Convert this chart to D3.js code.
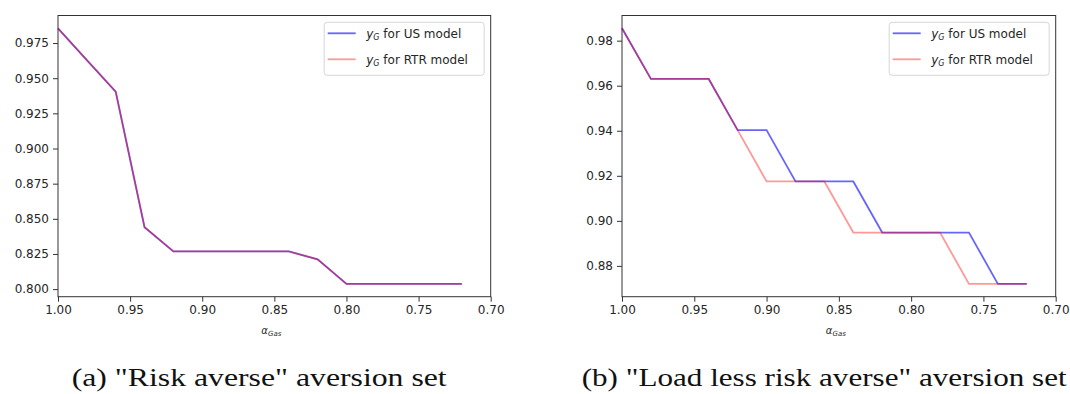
<!DOCTYPE html>
<html>
<head>
<meta charset="utf-8">
<script src="https://cdn.jsdelivr.net/npm/d3@7"></script>
<style>
	body { margin: 0; background: #fff; }
	svg { display: block; }
	.tick text { font-family: "DejaVu Sans", sans-serif; font-size: 12px; fill: #262626; }
	.tick line { stroke: #333; }
	.frame { fill: none; stroke: #333; stroke-width: 1; }
</style>
</head>
<body>
<svg id="chart" width="1070" height="394"></svg>
<script>

// alpha_Gas sample points (x axis runs from 1.00 down to 0.70)
var alphaGas = [1.00, 0.98, 0.96, 0.94, 0.92, 0.90, 0.88, 0.86, 0.84, 0.82, 0.80, 0.78, 0.76, 0.74, 0.72];

// (a) risk averse: both models give the same curve
var usRiskAverse  = [0.9855, 0.9628, 0.9405, 0.8440, 0.8268, 0.8268, 0.8268, 0.8268, 0.8268, 0.8212, 0.8037, 0.8037, 0.8037, 0.8037, 0.8037];
var rtrRiskAverse = [0.9855, 0.9628, 0.9405, 0.8440, 0.8268, 0.8268, 0.8268, 0.8268, 0.8268, 0.8212, 0.8037, 0.8037, 0.8037, 0.8037, 0.8037];

// (b) load less risk averse
var usLoadLess  = [0.9855, 0.9630, 0.9630, 0.9630, 0.9403, 0.9403, 0.9175, 0.9175, 0.9175, 0.8948, 0.8948, 0.8948, 0.8948, 0.8720, 0.8720];
var rtrLoadLess = [0.9855, 0.9630, 0.9630, 0.9630, 0.9403, 0.9175, 0.9175, 0.9175, 0.8948, 0.8948, 0.8948, 0.8948, 0.8720, 0.8720, 0.8720];

var xTicks  = [1.00, 0.95, 0.90, 0.85, 0.80, 0.75, 0.70];
var yTicksA = [0.800, 0.825, 0.850, 0.875, 0.900, 0.925, 0.950, 0.975];
var yTicksB = [0.88, 0.90, 0.92, 0.94, 0.96, 0.98];

var seriesNames = ["US", "RTR"];
var captions = ["(a) \"Risk averse\" aversion set", "(b) \"Load less risk averse\" aversion set"];

var svg = d3.select("#chart");

var panels = [
	{ left: 58, right: 490.7, us: usRiskAverse, rtr: rtrRiskAverse, yTicks: yTicksA, fmt: ".3f", caption: captions[0], capX: 71.7, capW: 375 },
	{ left: 622, right: 1055.7, us: usLoadLess, rtr: rtrLoadLess, yTicks: yTicksB, fmt: ".2f", caption: captions[1], capX: 581.7, capW: 485 }
];

var plotTop = 15.5, plotBottom = 296.7;

panels.forEach(function(p){

	var g = svg.append("g");

	var x = d3.scaleLinear()
	.domain([1.00, 0.70])
	.range([p.left, p.right]);

	// matplotlib style autoscale with 5% margin
	var all = p.us.concat(p.rtr);
	var lo = d3.min(all), hi = d3.max(all), pad = (hi - lo) * 0.05;
	var y = d3.scaleLinear()
	.domain([lo - pad, hi + pad])
	.range([plotBottom, plotTop]);

	g.append("g")
	.attr("transform", "translate(0," + plotBottom + ")")
	.call(d3.axisBottom(x).tickValues(xTicks).tickFormat(d3.format(".2f")).tickSize(5).tickPadding(4))
	.call(function(a){ a.select(".domain").remove(); });

	g.append("g")
	.attr("transform", "translate(" + p.left + ",0)")
	.call(d3.axisLeft(y).tickValues(p.yTicks).tickFormat(d3.format(p.fmt)).tickSize(5).tickPadding(4))
	.call(function(a){ a.select(".domain").remove(); });

	g.append("rect")
	.attr("class", "frame")
	.attr("x", p.left)
	.attr("y", plotTop)
	.attr("width", p.right - p.left)
	.attr("height", plotBottom - plotTop);

	var line = d3.line()
	.x(function(d, i){ return x(alphaGas[i]); })
	.y(function(d){ return y(d); });

	g.append("path")
	.datum(p.us)
	.attr("d", line)
	.attr("fill", "none")
	.attr("stroke", "#0000ff")
	.attr("stroke-opacity", 0.6)
	.attr("stroke-width", 1.8);

	g.append("path")
	.datum(p.rtr)
	.attr("d", line)
	.attr("fill", "none")
	.attr("stroke", "#ff0000")
	.attr("stroke-opacity", 0.4)
	.attr("stroke-width", 1.8);

	// legend
	var lx = p.right - 166.5;
	var legend = g.append("g");
	legend.append("rect")
	.attr("x", lx)
	.attr("y", 22.3)
	.attr("width", 160)
	.attr("height", 53)
	.attr("rx", 3)
	.attr("fill", "#fff")
	.attr("fill-opacity", 0.8)
	.attr("stroke", "#d6d6d6");

	var rows = legend.selectAll(".row")
	.data(seriesNames)
	.enter().append("g")
	.attr("transform", function(d, i){ return "translate(" + lx + "," + (33.3 + i * 26) + ")"; });

	rows.append("line")
	.attr("x1", 3.5).attr("x2", 31.5)
	.attr("stroke", function(d, i){ return i == 0 ? "#0000ff" : "#ff0000"; })
	.attr("stroke-opacity", function(d, i){ return i == 0 ? 0.6 : 0.4; })
	.attr("stroke-width", 1.8);

	var t = rows.append("text")
	.attr("x", 42)
	.attr("y", 4.5)
	.style("font-family", "DejaVu Sans, sans-serif")
	.style("font-size", "12px")
	.style("fill", "#262626");
	t.append("tspan").style("font-style", "italic").text("y");
	t.append("tspan").style("font-style", "italic").style("font-size", "8px").attr("dy", 2).text("G");
	t.append("tspan").attr("dy", -2).text(function(d){ return " for " + d + " model"; });

	// x label
	var xl = g.append("text")
	.attr("x", (p.left + p.right) / 2 - 3)
	.attr("y", 334)
	.attr("text-anchor", "middle")
	.style("font-family", "DejaVu Sans, sans-serif")
	.style("font-size", "10px")
	.style("fill", "#262626");
	xl.append("tspan").style("font-style", "italic").text("α");
	xl.append("tspan").style("font-style", "italic").style("font-size", "7px").attr("dy", 1.5).text("Gas");

	// caption under the panel
	g.append("text")
	.attr("x", p.capX)
	.attr("y", 386)
	.attr("textLength", p.capW)
	.attr("lengthAdjust", "spacingAndGlyphs")
	.style("font-family", "Liberation Serif, serif")
	.style("font-size", "26px")
	.style("fill", "#111")
	.text(p.caption);
});

</script>
</body>
</html>
